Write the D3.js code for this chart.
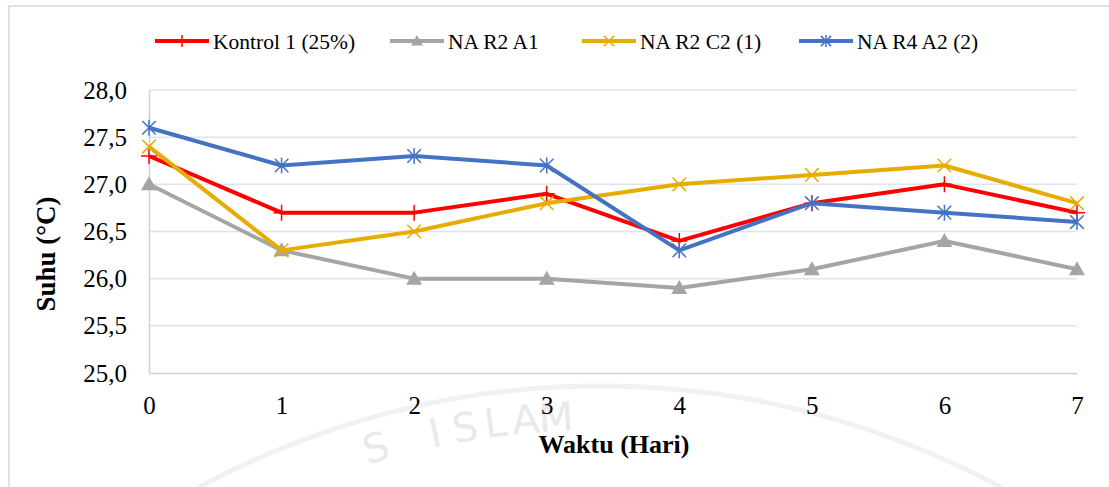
<!DOCTYPE html>
<html>
<head>
<meta charset="utf-8">
<script src="https://cdn.jsdelivr.net/npm/d3@7"></script>
<style>
  body { margin: 0; background: #fff; }
  svg { display: block; }
  svg text { font-family: "Liberation Serif", "Tinos", "Times New Roman", "DejaVu Serif", serif; }
</style>
</head>
<body>
<svg id="chart" width="1109" height="487"></svg>
<script>
var days = [0, 1, 2, 3, 4, 5, 6, 7]
var yTicks = [25.0, 25.5, 26.0, 26.5, 27.0, 27.5, 28.0]

var kontrol = [27.3, 26.7, 26.7, 26.9, 26.4, 26.8, 27.0, 26.7]
var naR2A1  = [27.0, 26.3, 26.0, 26.0, 25.9, 26.1, 26.4, 26.1]
var naR2C2  = [27.4, 26.3, 26.5, 26.8, 27.0, 27.1, 27.2, 26.8]
var naR4A2  = [27.6, 27.2, 27.3, 27.2, 26.3, 26.8, 26.7, 26.6]

var seriesNames = ["Kontrol 1 (25%)", "NA R2 A1", "NA R2 C2 (1)", "NA R4 A2 (2)"]
var sealText = "UNIVERSITAS ISLAM INDONESIA"

var series = [
  {name: seriesNames[0], values: kontrol, color: "#ff0000", marker: "plus"},
  {name: seriesNames[1], values: naR2A1,  color: "#a5a5a5", marker: "triangle"},
  {name: seriesNames[2], values: naR2C2,  color: "#e6ac00", marker: "x"},
  {name: seriesNames[3], values: naR4A2,  color: "#4472c4", marker: "star"}
]

var svg = d3.select("#chart")

// outer chart border (only left/top visible in the picture)
svg.append("path")
  .attr("d", "M9,487 L9,6 L1109,6")
  .attr("fill", "none")
  .attr("stroke", "#dde2e8")
  .attr("stroke-width", 2)

// faint watermark (big university seal, only its top shows)
var seal = {cx: 600, cy: 1230, r: 800}
var wm = svg.append("g")
wm.append("circle")
  .attr("cx", seal.cx).attr("cy", seal.cy).attr("r", seal.r + 44)
  .attr("fill", "none").attr("stroke", "#f1f1f1").attr("stroke-width", 5)

var step = 30 / seal.r
var a0 = Math.asin((497 - seal.cx) / seal.r)
var chars = sealText.split("")
var mid = sealText.indexOf("ISLAM") + 2
chars.forEach(function(c, i) {
  var a = (i - mid) * step + a0
  var px = seal.cx + seal.r * Math.sin(a)
  var py = seal.cy - seal.r * Math.cos(a)
  if (c == " " || px < 370 || px > 600) return
  wm.append("text")
    .attr("transform", "translate(" + px + "," + py + ") rotate(" + (a * 180 / Math.PI) + ")")
    .attr("text-anchor", "middle")
    .style("font-family", "'DejaVu Sans', sans-serif")
    .attr("font-size", 40)
    .attr("fill", "#e9e9e9")
    .text(c)
})

var x = d3.scaleLinear().domain([0, 7]).range([149, 1077])
var y = d3.scaleLinear().domain([25, 28]).range([373, 90])

// gridlines
svg.append("g")
  .selectAll("line")
  .data(yTicks.slice(1))
  .enter().append("line")
    .attr("x1", x(0)).attr("x2", x(7))
    .attr("y1", function(d) { return y(d) }).attr("y2", function(d) { return y(d) })
    .attr("stroke", "#dfe3ea").attr("stroke-width", 1.5)

// axes
var xAxis = d3.axisBottom(x).tickValues(days).tickSize(0).tickPadding(23)
  .tickFormat(d3.format("d"))
var yAxis = d3.axisLeft(y).tickValues(yTicks).tickSize(0).tickPadding(22)
  .tickFormat(function(d) { return d3.format(".1f")(d).replace(".", ",") })

var gx = svg.append("g").attr("transform", "translate(0," + y(25) + ")").call(xAxis)
var gy = svg.append("g").attr("transform", "translate(" + x(0) + ",0)").call(yAxis)

gx.attr("font-family", null)
gy.attr("font-family", null)
gx.select(".domain").attr("stroke", "#c9d1de").attr("stroke-width", 1.5)
gy.select(".domain").attr("stroke", "#c9d1de").attr("stroke-width", 1.5)
svg.selectAll(".tick text")
  .attr("font-size", 25)
  .attr("fill", "#000")

// axis titles
svg.append("text")
  .attr("transform", "translate(55,254) rotate(-90)")
  .attr("text-anchor", "middle")
  .attr("font-weight", "bold")
  .attr("font-size", 27)
  .text("Suhu (°C)")

svg.append("text")
  .attr("x", 614).attr("y", 453)
  .attr("text-anchor", "middle")
  .attr("font-weight", "bold")
  .attr("font-size", 26)
  .text("Waktu (Hari)")

function drawMarker(g, type, color, cx, cy, s) {
  if (type == "plus") {
    g.append("path")
      .attr("d", "M" + (cx - s) + "," + cy + "H" + (cx + s) + "M" + cx + "," + (cy - s) + "V" + (cy + s))
      .attr("stroke", color).attr("stroke-width", 1.5).attr("fill", "none")
  } else if (type == "triangle") {
    g.append("path")
      .attr("d", "M" + cx + "," + (cy - s) + "L" + (cx + s) + "," + (cy + s * 0.75) + "L" + (cx - s) + "," + (cy + s * 0.75) + "Z")
      .attr("fill", color)
  } else if (type == "x") {
    var k = s * 0.85
    g.append("path")
      .attr("d", "M" + (cx - k) + "," + (cy - k) + "L" + (cx + k) + "," + (cy + k) + "M" + (cx - k) + "," + (cy + k) + "L" + (cx + k) + "," + (cy - k))
      .attr("stroke", color).attr("stroke-width", 1.5).attr("fill", "none")
  } else if (type == "star") {
    var k = s * 0.85
    g.append("path")
      .attr("d", "M" + (cx - k) + "," + (cy - k) + "L" + (cx + k) + "," + (cy + k) + "M" + (cx - k) + "," + (cy + k) + "L" + (cx + k) + "," + (cy - k) +
                 "M" + cx + "," + (cy - s) + "V" + (cy + s))
      .attr("stroke", color).attr("stroke-width", 1.5).attr("fill", "none")
  }
}

var line = d3.line()
  .x(function(d, i) { return x(days[i]) })
  .y(function(d) { return y(d) })

series.forEach(function(s) {
  var g = svg.append("g")
  g.append("path")
    .datum(s.values)
    .attr("d", line)
    .attr("fill", "none")
    .attr("stroke", s.color)
    .attr("stroke-width", 4)
    .attr("stroke-linejoin", "round")
  s.values.forEach(function(v, i) {
    drawMarker(g, s.marker, s.color, x(days[i]), y(v), 8)
  })
})

// legend
var legendX = [155, 390, 582, 799]
var legend = svg.append("g")
series.forEach(function(s, i) {
  var lg = legend.append("g").attr("transform", "translate(" + legendX[i] + ",41)")
  lg.append("line")
    .attr("x1", 0).attr("x2", 54)
    .attr("stroke", s.color).attr("stroke-width", 4)
  drawMarker(lg, s.marker, s.color, 27, 0, 6)
  lg.append("text")
    .attr("x", 58).attr("y", 0)
    .attr("dy", "0.35em")
    .attr("font-size", 21.5)
    .text(s.name)
})
</script>
</body>
</html>
